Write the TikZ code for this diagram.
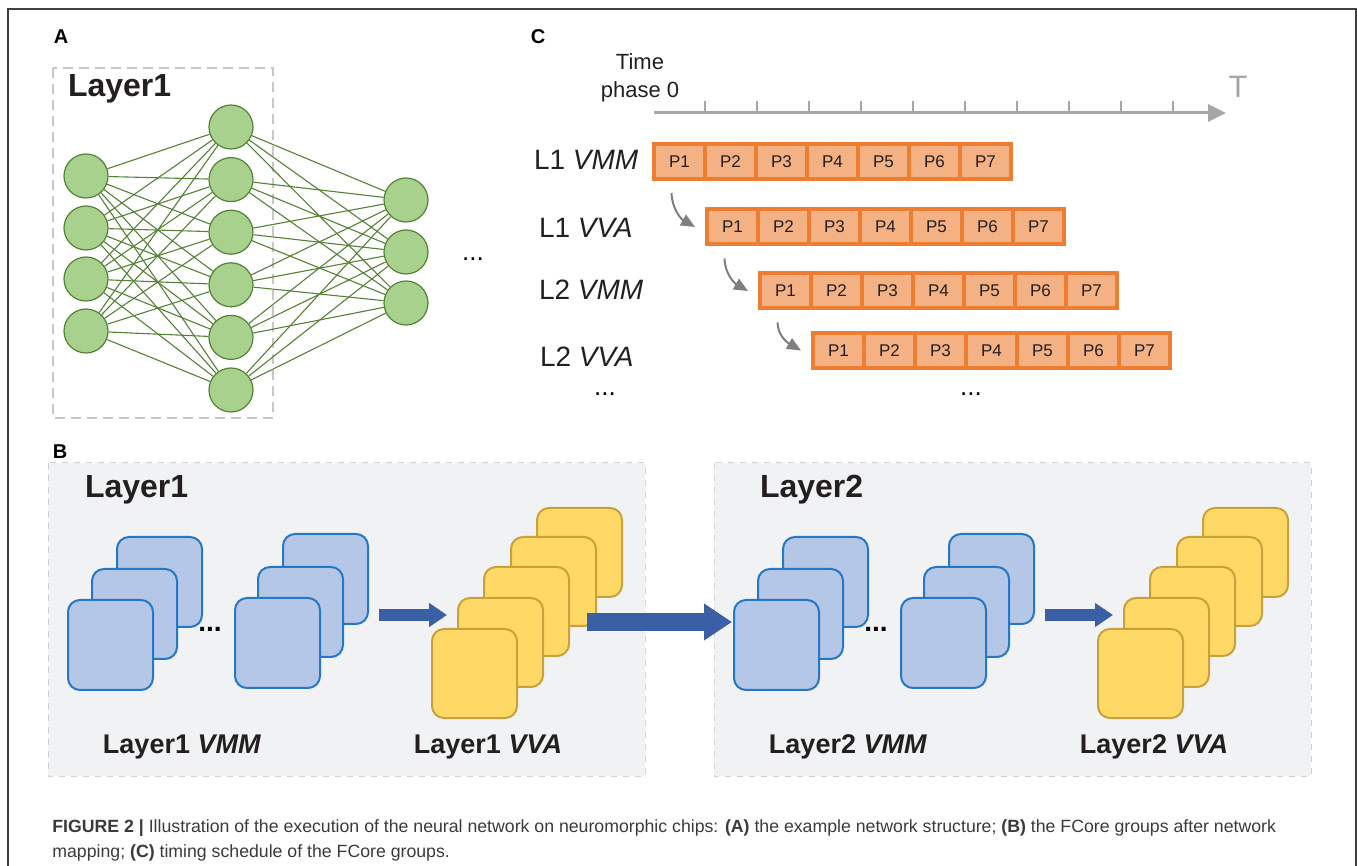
\documentclass[tikz,border=0pt]{standalone}
\usepackage{fontspec}
\setmainfont{Liberation Sans}
\usetikzlibrary{arrows.meta}

\definecolor{neurongreen}{HTML}{A9D18E}
\definecolor{edgegreen}{HTML}{548235}
\definecolor{cellorange}{HTML}{ED7D31}
\definecolor{cellfill}{HTML}{F4B183}
\definecolor{vmmblue}{HTML}{B4C7E7}
\definecolor{vmmedge}{HTML}{2677C4}
\definecolor{vvayellow}{HTML}{FFD966}
\definecolor{vvaedge}{HTML}{C9A13A}
\definecolor{flowblue}{HTML}{3B5FA4}
\definecolor{panelgray}{HTML}{F1F2F4}
\definecolor{textdark}{HTML}{231F20}
\definecolor{axisgray}{HTML}{A6A6A6}
\definecolor{curvegray}{HTML}{7F7F7F}
\definecolor{captiongray}{HTML}{3A3A3A}

\tikzset{
  neuron/.style={circle, draw=edgegreen, fill=neurongreen, line width=0.6pt, minimum size=22pt, inner sep=0pt},
  synapse/.style={edgegreen, line width=0.55pt},
  phasecell/.style={draw=cellorange, fill=cellfill, line width=2pt, minimum width=25.5pt, minimum height=17.5pt, inner sep=0pt, text=textdark, font=\fontsize{8.5}{10}\selectfont},
  vmmcore/.style={draw=vmmedge, fill=vmmblue, line width=1pt, rounded corners=6pt, minimum width=42.5pt, minimum height=45pt, anchor=north west, inner sep=0pt},
  vvacore/.style={draw=vvaedge, fill=vvayellow, line width=1pt, rounded corners=6pt, minimum width=42.5pt, minimum height=44.5pt, anchor=north west, inner sep=0pt},
  panelbox/.style={fill=panelgray, draw=black!18, dashed, line width=0.5pt},
  panellabel/.style={font=\bfseries\fontsize{10}{12}\selectfont, text=black},
  layertitle/.style={anchor=west, font=\bfseries\fontsize{16}{19}\selectfont, text=textdark},
  corelabel/.style={font=\bfseries\fontsize{13.5}{16}\selectfont, text=textdark},
  rowlabel/.style={anchor=west, font=\fontsize{14}{16}\selectfont, text=textdark},
  flowarrow/.style={curvegray, line width=1pt, -{Triangle[length=7pt,width=6pt]}},
  blockarrow/.style={flowblue, line width=6pt, -{Triangle[length=9pt,width=11.5pt]}},
  bigarrow/.style={flowblue, line width=9pt, -{Triangle[length=14pt,width=17.5pt]}},
}

\begin{document}
\begin{tikzpicture}[x=0.5pt,y=-0.5pt]
  \useasboundingbox (0,0) rectangle (1357,866);
  \draw[black!75, line width=0.8pt] (8,866) -- (8,9) -- (1356,9) -- (1356,866);

  % panel A
  \node[panellabel] (labA) at (61,37) {A};
  \draw[black!22, dashed, line width=0.8pt, dash pattern=on 5pt off 3pt] (53,68) rectangle (273,418);
  \node[layertitle] (titleA) at (61,89) {Layer1};
  \foreach \i/\y in {1/176,2/228,3/279,4/331}
    \node[neuron] (in\i) at (86,\y) {};
  \foreach \i in {1,...,6}
    \node[neuron] (hid\i) at (231,{127+52.6*(\i-1)}) {};
  \foreach \i/\y in {1/200,2/252,3/303}
    \node[neuron] (out\i) at (406,\y) {};
  \foreach \a in {1,...,4}
    \foreach \b in {1,...,6}
      \draw[synapse] (in\a) -- (hid\b);
  \foreach \a in {1,...,6}
    \foreach \b in {1,...,3}
      \draw[synapse] (hid\a) -- (out\b);
  \node[anchor=base, font=\fontsize{13}{15}\selectfont] (moreA) at (473,261) {...};

  % panel C
  \node[panellabel] (labC) at (538,37) {C};
  \node[align=center, text=textdark, font=\fontsize{11}{14}\selectfont] (phase0) at (640,78) {Time\\phase 0};
  \draw[axisgray, line width=1.5pt, -{Triangle[length=9pt,width=8.5pt]}] (654,113) -- (1226,113);
  \foreach \t in {1,...,10}
    \draw[axisgray, line width=0.6pt] ({653+52*\t},113) -- ({653+52*\t},101);
  \node[text=axisgray, font=\fontsize{15.5}{18}\selectfont] (tend) at (1238,87) {T};

  \foreach \k/\x/\y in {1/654/161.5, 2/707/227, 3/760/291, 4/813/350.5}
    \foreach \j in {1,...,7}
      \node[phasecell] (p\k-\j) at ({\x+(\j-0.5)*51},\y) {P\j};

  \node[rowlabel] (row1) at (527,160) {L1 \textit{VMM}};
  \node[rowlabel] (row2) at (532,228) {L1 \textit{VVA}};
  \node[rowlabel] (row3) at (532,290) {L2 \textit{VMM}};
  \node[rowlabel] (row4) at (533,357) {L2 \textit{VVA}};
  \node[anchor=base, font=\fontsize{13}{15}\selectfont] (moreC1) at (605,396) {...};
  \node[anchor=base, font=\fontsize{13}{15}\selectfont] (moreC2) at (971,396) {...};

  \draw[flowarrow] ([xshift=-4pt,yshift=-6pt]p1-1.south) to[out=-88,in=150] ([xshift=-5pt]p2-1.west);
  \draw[flowarrow] ([xshift=-4pt,yshift=-6pt]p2-1.south) to[out=-88,in=150] ([xshift=-5pt]p3-1.west);
  \draw[flowarrow] ([xshift=-4pt,yshift=-6pt]p3-1.south) to[out=-88,in=150] ([xshift=-5pt]p4-1.west);

  % panel B
  \node[panellabel] (labB) at (60,452) {B};
  \draw[panelbox] (48,463) rectangle (645,776);
  \draw[panelbox] (714,463) rectangle (1311,776);
  \node[layertitle] (titleB1) at (78,490) {Layer1};
  \node[layertitle] (titleB2) at (753,490) {Layer2};

  \foreach \L/\dx in {1/0, 2/666} {
    \foreach \i/\px/\py in {3/116/536, 2/91/568, 1/67/599}
      \node[vmmcore] (l\L a\i) at (\px+\dx,\py) {};
    \foreach \i/\px/\py in {3/282/533, 2/257/566, 1/234/597}
      \node[vmmcore] (l\L b\i) at (\px+\dx,\py) {};
    \foreach \i/\px/\py in {5/536/507, 4/510/536, 3/483/566, 2/457/597, 1/431/628}
      \node[vvacore] (l\L v\i) at (\px+\dx,\py) {};
    \node[anchor=base, font=\bfseries\fontsize{14}{16}\selectfont] (dots\L) at (210+\dx,632) {...};
    \node[corelabel] (vmmlab\L) at (182+\dx,747) {Layer\L{} \textit{VMM}};
    \node[corelabel] (vvalab\L) at (488+\dx,747) {Layer\L{} \textit{VVA}};
    \coordinate (from\L) at (379+\dx,615);
    \coordinate (to\L) at (447+\dx,615);
    \draw[blockarrow] (from\L) -- (to\L);
  }
  \coordinate (bridgeA) at (587,622);
  \coordinate (bridgeB) at (732,622);
  \draw[bigarrow] (bridgeA) -- (bridgeB);

  % caption
  \node[anchor=north west, align=left, text=captiongray, font=\fontsize{8.85}{12.5}\selectfont, inner sep=0pt] (caption) at (52,819)
    {\textbf{FIGURE 2 |} Illustration of the execution of the neural network on neuromorphic chips: \textbf{(A)} the example network structure; \textbf{(B)} the FCore groups after network\\
     mapping; \textbf{(C)} timing schedule of the FCore groups.};
\end{tikzpicture}
\end{document}
